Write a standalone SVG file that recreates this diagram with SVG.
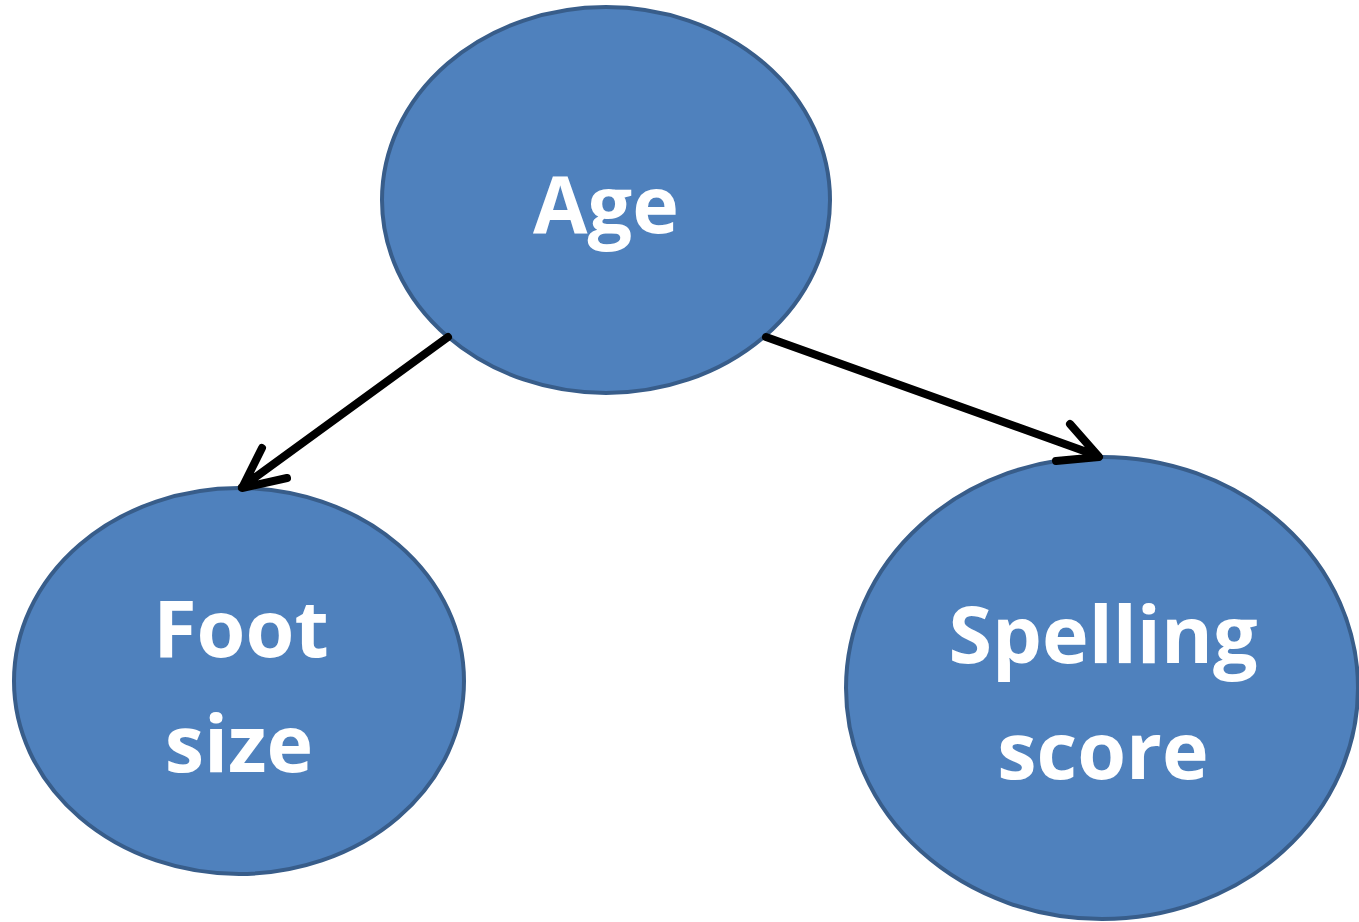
<svg xmlns="http://www.w3.org/2000/svg" width="1359" height="922" viewBox="0 0 1359 922">
  <style>
    .node ellipse { fill: #4F81BD; stroke: #385D8A; stroke-width: 4; }
    .node text { fill: #FFFFFF; font-family: "Open Sans", "Liberation Sans", sans-serif; font-weight: bold; font-size: 79px; text-anchor: middle; }
    .edge { fill: none; stroke: #000000; stroke-width: 8; stroke-linecap: round; stroke-linejoin: round; }
  </style>
  <rect width="1359" height="922" fill="#FFFFFF"/>
  <g id="node-age" class="node">
    <ellipse cx="606" cy="200" rx="224" ry="193"/>
    <text x="606" y="233">Age</text>
  </g>
  <g id="node-foot-size" class="node">
    <ellipse cx="239" cy="681" rx="225" ry="193"/>
    <text x="241" y="657">Foot</text>
    <text x="239" y="772">size</text>
  </g>
  <g id="node-spelling-score" class="node">
    <ellipse cx="1102" cy="688" rx="256" ry="231"/>
    <text x="1103" y="663">Spelling</text>
    <text x="1103" y="779">score</text>
  </g>
  <g id="connectors">
    <path class="edge" d="M448 337 L242 487 M262 448 L242 488 L287 478"/>
    <path class="edge" d="M766 337 L1098 456 M1070 424 L1099 457 L1056 461"/>
  </g>
</svg>
